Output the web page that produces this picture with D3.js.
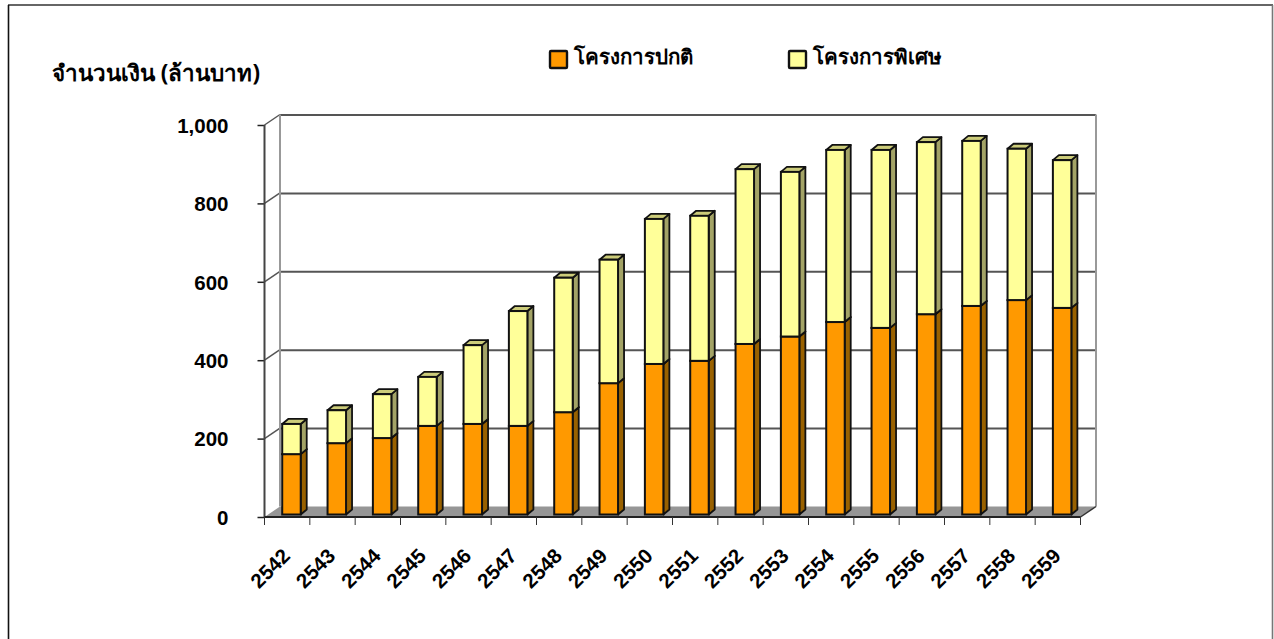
<!DOCTYPE html>
<html><head><meta charset="utf-8">
<script src="https://cdnjs.cloudflare.com/ajax/libs/d3/7.8.5/d3.min.js"></script>
<style>html,body{margin:0;padding:0;background:#fff}svg{display:block}
text{font-family:"Liberation Sans",Arial,sans-serif;font-weight:700;fill:#000}</style></head><body>
<div id="c"></div>
<script>
const years=[2542,2543,2544,2545,2546,2547,2548,2549,2550,2551,2552,2553,2554,2555,2556,2557,2558,2559];
const regular=[154,182,195,226,231,226,261,335,384,392,435,454,491,476,511,532,547,527];
const special=[77,84,112,125,201,293,343,315,370,370,446,420,439,454,439,421,386,377];
const yTicks=[0,200,400,600,800,1000];
const seriesNames=["โครงการปกติ","โครงการพิเศษ"];
const axisTitle="จำนวนเงิน (ล้านบาท)";
const seriesFill=["#ff9900","#ffff99"],seriesTop=["#cc7a00","#cccc7a"],seriesSide=["#996100","#a3a366"];

const W=1274,H=639;
const svg=d3.select("#c").append("svg").attr("width",W).attr("height",H);
// frame: dark top and left, grey right, open bottom
svg.append("line").attr("x1",8).attr("x2",1273).attr("y1",5).attr("y2",5).attr("stroke","#333").attr("stroke-width",1.5);
svg.append("line").attr("x1",8.5).attr("x2",8.5).attr("y1",5).attr("y2",H).attr("stroke","#111").attr("stroke-width",1.6);
svg.append("line").attr("x1",1272.5).attr("x2",1272.5).attr("y1",5).attr("y2",H).attr("stroke","#777").attr("stroke-width",1.6);

const x=d3.scaleBand().domain(years).range([264.5,1080.5]);
const y=d3.scaleLinear().domain([0,1000]).range([517,125]);
const dx=15.5,dy=10.5;           // wall depth
const bx=6,by=5;                 // bar depth
const off=[3,2.5];               // bar position inside depth

// floor
svg.append("path").attr("d",`M${x.range()[0]},${y(0)}l${dx},${-dy}H${x.range()[1]+dx}l${-dx},${dy}Z`).attr("fill","#969696").attr("stroke","none");
// back walls
const g=svg.append("g").attr("fill","none");
g.selectAll("line.grid").data(yTicks.filter(d=>d>0)).join("line").attr("class","grid")
 .attr("x1",x.range()[0]+dx).attr("x2",x.range()[1]+dx).attr("y1",d=>y(d)-dy+.5).attr("y2",d=>y(d)-dy+.5).attr("stroke","#555").attr("stroke-width",2);
g.selectAll("path.side").data(yTicks.filter(d=>d>0)).join("path").attr("class","side")
 .attr("d",d=>`M${x.range()[0]},${y(d)}l${dx},${-dy}`).attr("stroke","#555").attr("stroke-width",1.5);
g.append("line").attr("x1",x.range()[0]+dx).attr("x2",x.range()[0]+dx).attr("y1",y(1000)-dy).attr("y2",y(0)-dy).attr("stroke","#999").attr("stroke-width",2);
g.append("line").attr("x1",x.range()[1]+dx).attr("x2",x.range()[1]+dx).attr("y1",y(1000)-dy).attr("y2",y(0)-dy).attr("stroke","#999").attr("stroke-width",2);
g.append("line").attr("x1",x.range()[1]).attr("x2",x.range()[1]+dx).attr("y1",y(0)).attr("y2",y(0)-dy).attr("stroke","#333").attr("stroke-width",1.5);

// axes
const ya=svg.append("g").attr("transform",`translate(${x.range()[0]},0)`)
 .call(d3.axisLeft(y).tickValues(yTicks).tickSize(7).tickPadding(29).tickFormat(d3.format(",")));
ya.select(".domain").remove();
ya.selectAll("line").attr("stroke","#222").attr("stroke-width",1.5);
ya.selectAll("text").attr("font-size",20.5).attr("dy","0.36em").style("font-family",'"Liberation Sans"');
svg.append("line").attr("x1",x.range()[0]).attr("x2",x.range()[0]).attr("y1",y(1000)).attr("y2",y(0)).attr("stroke","#444").attr("stroke-width",2);
svg.append("line").attr("x1",x.range()[0]).attr("x2",x.range()[1]).attr("y1",y(0)).attr("y2",y(0)).attr("stroke","#222").attr("stroke-width",2);

// x ticks & labels
const xa=svg.append("g");
const edges=years.map(d=>x(d)).concat([x.range()[1]]);
xa.selectAll("line").data(edges).join("line").attr("x1",d=>d).attr("x2",d=>d).attr("y1",y(0)).attr("y2",y(0)+8).attr("stroke","#333").attr("stroke-width",1);
xa.selectAll("text").data(years).join("text").text(d=>d)
 .attr("font-size",20.5).attr("text-anchor","end")
 .attr("transform",d=>`translate(${x(d)+x.bandwidth()/2-6},${y(0)+30}) rotate(-45)`)
 .attr("dy","0.7em");

// bars
const barW=18.5;
const stack=years.map((yr,i)=>({yr,parts:[[0,regular[i],0],[regular[i],regular[i]+special[i],1]]}));
const bars=svg.append("g").selectAll("g").data(stack).join("g")
 .attr("transform",d=>`translate(${x(d.yr)+(x.bandwidth()-barW)/2+off[0]+1.3},${-off[1]})`);
bars.each(function(d){
 const s=d3.select(this);
 d.parts.forEach(([a,b,k])=>{
  const t=y(b),o=y(a);
  s.append("path").attr("d",`M${barW},${t}l${bx},${-by}V${o-by}l${-bx},${by}Z`).attr("fill",seriesSide[k]).attr("stroke","#111").attr("stroke-width",1.8).attr("stroke-linejoin","round");
  s.append("path").attr("d",`M0,${t}l${bx},${-by}H${barW+bx}l${-bx},${by}Z`).attr("fill",seriesTop[k]).attr("stroke","#111").attr("stroke-width",1.8).attr("stroke-linejoin","round");
  s.append("rect").attr("x",0).attr("y",t).attr("width",barW).attr("height",o-t).attr("fill",seriesFill[k]).attr("stroke","#111").attr("stroke-width",2);
 });
});

// title
svg.append("text").attr("x",52).attr("y",81).attr("font-size",22.4).text(axisTitle).style("font-family",'"Noto Sans","Liberation Sans"');

// legend
const legendX=[550,789];
const lg=svg.append("g").selectAll("g").data(seriesNames).join("g").attr("transform",(d,i)=>`translate(${legendX[i]},51)`);
lg.append("rect").attr("width",17).attr("height",17).attr("fill",(d,i)=>seriesFill[i]).attr("stroke","#111").attr("stroke-width",2.4).attr("rx",1);
lg.append("text").attr("x",24).attr("y",13).attr("font-size",20.5).text(d=>d).style("font-family",'"Noto Sans","Liberation Sans"');
</script></body></html>
